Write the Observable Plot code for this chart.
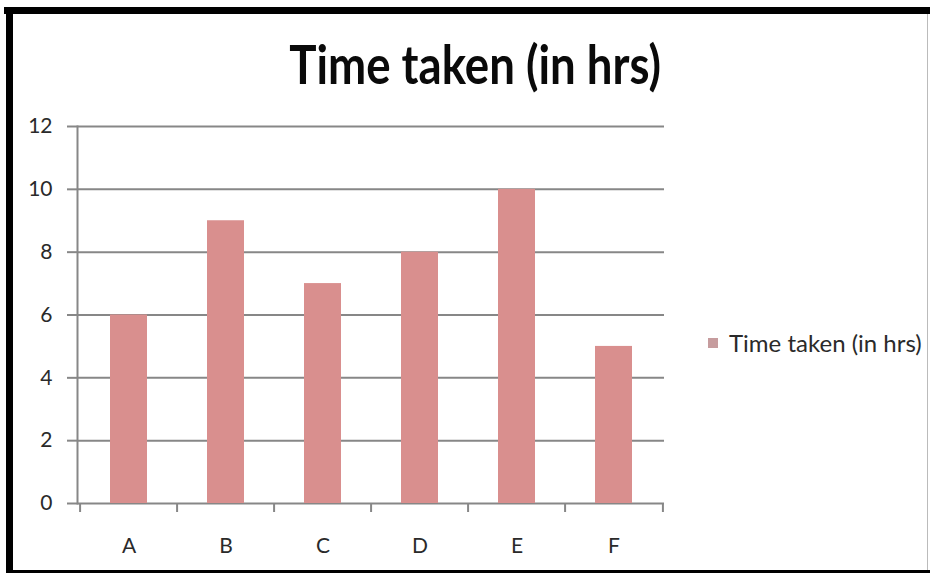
<!DOCTYPE html>
<html>
<head>
<meta charset="utf-8">
<script src="https://cdn.jsdelivr.net/npm/d3@7"></script>
<script src="https://cdn.jsdelivr.net/npm/@observablehq/plot@0.6"></script>
<style>
  html, body { margin: 0; padding: 0; background: #fff; }
  #wrap { position: relative; width: 930px; height: 573px; overflow: hidden; background: #fff; font-family: Lato, sans-serif; }
  #wrap svg { position: absolute; left: 0; top: 0; }
  .bd { position: absolute; background: #000; }
  #title { position: absolute; left: 0; width: 950px; top: 37px; text-align: center; font-weight: 700; font-size: 53px; color: #0a0a0a; line-height: 1; }
  #title span { display: inline-block; transform-origin: center; transform: scaleX(0.86); }
  #legend { position: absolute; left: 708px; top: 328px; display: flex; align-items: center; font-size: 24px; color: #2a2a2a; white-space: nowrap; }
  #legend i { display: inline-block; width: 10px; height: 10px; background: #c69c9e; margin-right: 11px; }
</style>
</head>
<body>
<div id="wrap">
  <div class="bd" style="left:4px; top:7px; width:926px; height:7px;"></div>
  <div class="bd" style="left:6px; top:7px; width:7px; height:566px;"></div>
  <div class="bd" style="left:6px; top:570px; width:924px; height:3px;"></div>
  <div class="bd" style="left:927px; top:14px; width:1px; height:556px; background:#bbb;"></div>
  <div id="title"><span>Time taken (in hrs)</span></div>
  <div id="legend"><i></i><span>Time taken (in hrs)</span></div>
</div>
<script>
const categories = ["A", "B", "C", "D", "E", "F"];
const values = [6, 9, 7, 8, 10, 5];
const yTicks = [0, 2, 4, 6, 8, 10, 12];
const seriesName = "Time taken (in hrs)";

const data = categories.map((c, i) => ({cat: c, val: values[i]}));

const W = 930, H = 573;
const mL = 77, mR = 266, mT = 126, mB = 70;
const step = (W - mL - mR) / categories.length;
const grid = "#878787";
const barColor = "#d98f8e";

const plot = Plot.plot({
  width: W,
  height: H,
  marginLeft: mL,
  marginRight: mR,
  marginTop: mT,
  marginBottom: mB,
  style: {fontFamily: "Lato, sans-serif", fontSize: "21px", color: "#333", background: "transparent"},
  x: {domain: categories, paddingInner: 0.62, paddingOuter: 0.31, label: null},
  y: {domain: [0, 12], label: null},
  marks: [
    Plot.gridY(yTicks, {stroke: grid, strokeOpacity: 1, strokeWidth: 2}),
    Plot.frame({anchor: "left", stroke: grid, strokeWidth: 2}),
    Plot.axisY({ticks: yTicks, tickSize: 10, tickPadding: 15, stroke: grid, strokeWidth: 2, fontSize: 21, fill: "#2a2a2a", label: null}),
    Plot.barY(data, {x: "cat", y: "val", fill: barColor}),
    Plot.axisX({tickSize: 0, tickPadding: 35, fontSize: 21, fill: "#2a2a2a", label: null}),
    Plot.ruleX(categories, {x: d => d, dx: -step / 2, y1: 0, y2: 0, insetBottom: -9, stroke: grid, strokeWidth: 2}),
    Plot.ruleX(categories.slice(-1), {x: d => d, dx: step / 2, y1: 0, y2: 0, insetBottom: -9, stroke: grid, strokeWidth: 2})
  ]
});
document.getElementById("wrap").insertBefore(plot, document.getElementById("title"));
document.querySelector("#legend span").textContent = seriesName;
</script>
</body>
</html>
